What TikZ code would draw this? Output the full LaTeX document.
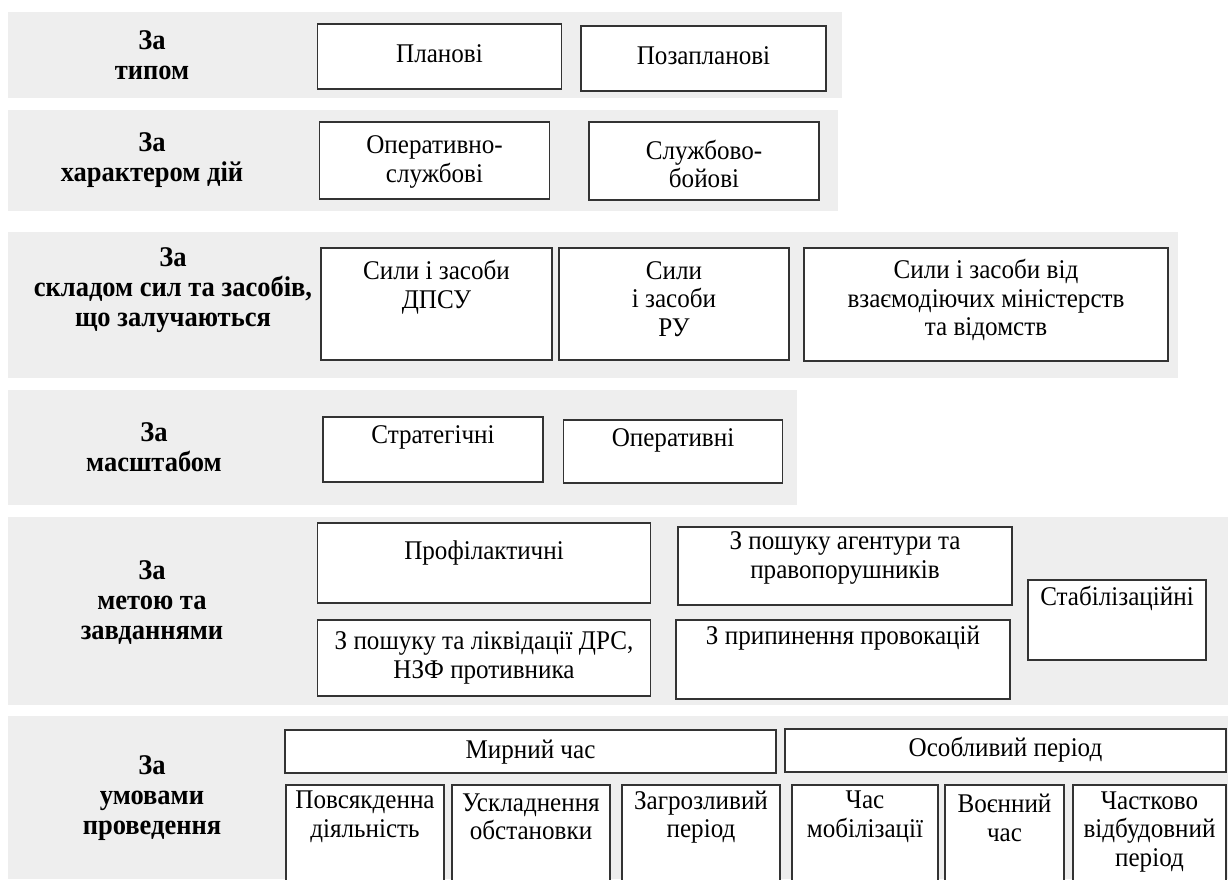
\documentclass[tikz,border=0pt]{standalone}
\usepackage{fontspec}
\setmainfont{Liberation Serif}[FakeStretch=0.93]
\usetikzlibrary{positioning}
\definecolor{bandgray}{HTML}{EEEEEE}
\tikzset{
  band/.style={fill=bandgray, draw=none
  },
  rect/.style={
    draw=black!80, fill=white, rectangle, line width=1.3pt, inner sep=0pt
  },
  mytext/.style={
    align=center, inner sep=0pt, font=\fontsize{27}{28.5}\selectfont
  },
  mylabel/.style={
    align=center, inner sep=0pt, font=\fontsize{28.5}{30}\selectfont\bfseries
  }
}

\begin{document}
\begin{tikzpicture}[x=1pt,y=-1pt]
 \clip (0,0) rectangle (1228,879);
 \fill[white] (0,0) rectangle (1228,879);

 % grey rows
 \fill[band] (8,12) rectangle (842,98);
 \fill[band] (8,110) rectangle (838,211);
 \fill[band] (8,232) rectangle (1178,378);
 \fill[band] (8,390) rectangle (797,505);
 \fill[band] (8,517) rectangle (1228,705);
 \fill[band] (8,716) rectangle (1228,879);

 % row labels
 \node[mylabel] (type) at (152,55) {За\\типом};
 \node[mylabel] (action) at (152,160) {За\\характером дій};
 \node[mylabel] (forces) at (173,290) {За\\складом сил та засобів,\\що залучаються};
 \node[mylabel] (scale) at (154,447) {За\\масштабом};
 \node[mylabel] (goal) at (152,603) {За\\метою та\\завданнями};
 \node[mylabel] (cond) at (152,798) {За\\умовами\\проведення};

 % row 1
 \node[rect, minimum width=244, minimum height=65] (plan) at (439.5,56.5) {};
 \node[rect, minimum width=245, minimum height=65] (unplan) at (703.5,58.5) {};
 \node[mytext] (plan-t) at (439.5,54) {Планові};
 \node[mytext] (unplan-t) at (703.5,56) {Позапланові};

 % row 2
 \node[rect, minimum width=230, minimum height=77] (oper) at (434.5,160.5) {};
 \node[rect, minimum width=230, minimum height=78] (serv) at (704,161) {};
 \node[mytext] (oper-t) at (434.5,162) {Оперативно-\\службові};
 \node[mytext] (serv-t) at (704,164) {Службово-\\бойові};

 % row 3
 \node[rect, minimum width=231, minimum height=112] (dpsu) at (436.5,304) {};
 \node[rect, minimum width=230, minimum height=112] (ru) at (674,304) {};
 \node[rect, minimum width=364, minimum height=113] (mvs) at (986,304.5) {};
 \node[mytext] (dpsu-t) at (436.5,287) {Сили і засоби\\ДПСУ};
 \node[mytext] (ru-t) at (674,299) {Сили\\і засоби\\РУ};
 \node[mytext] (mvs-t) at (986,300) {Сили і засоби від\\взаємодіючих міністерств\\та відомств};

 % row 4
 \node[rect, minimum width=220, minimum height=65] (strat) at (433,449.5) {};
 \node[rect, minimum width=219.5, minimum height=63] (operat) at (673,451.5) {};
 \node[mytext] (strat-t) at (433,437) {Стратегічні};
 \node[mytext] (operat-t) at (673,440) {Оперативні};

 % row 5
 \node[rect, minimum width=333.5, minimum height=80] (prof) at (484,563) {};
 \node[rect, minimum width=334, minimum height=78] (agent) at (845,566) {};
 \node[rect, minimum width=178, minimum height=80] (stab) at (1117,620) {};
 \node[rect, minimum width=332.5, minimum height=76] (drs) at (484,658) {};
 \node[rect, minimum width=334, minimum height=79] (prov) at (843,659.5) {};
 \node[mytext] (prof-t) at (484,553) {Профілактичні};
 \node[mytext] (agent-t) at (845,558) {З пошуку агентури та\\правопорушників};
 \node[mytext] (stab-t) at (1117,598) {Стабілізаційні};
 \node[mytext] (drs-t) at (484,658) {З пошуку та ліквідації ДРС,\\НЗФ противника};
 \node[mytext] (prov-t) at (843,638) {З припинення провокацій};

 % row 6
 \node[rect, minimum width=491, minimum height=43] (peace) at (530.5,751.5) {};
 \node[rect, minimum width=441, minimum height=43] (special) at (1005.5,750.5) {};
 \node[mytext] (peace-t) at (530.5,752) {Мирний час};
 \node[mytext] (special-t) at (1005.5,750) {Особливий період};
 \node[rect, minimum width=158, minimum height=100] (daily) at (365,835) {};
 \node[rect, minimum width=158, minimum height=100] (compl) at (531,835) {};
 \node[rect, minimum width=158, minimum height=100] (threat) at (701,835) {};
 \node[rect, minimum width=146, minimum height=100] (mobil) at (865,835) {};
 \node[rect, minimum width=119, minimum height=100] (war) at (1004.5,835) {};
 \node[rect, minimum width=153, minimum height=100] (recon) at (1149.5,835) {};
 \node[mytext] (daily-t) at (365,817) {Повсякденна\\діяльність};
 \node[mytext] (compl-t) at (531,817) {Ускладнення\\обстановки};
 \node[mytext] (threat-t) at (701,817) {Загрозливий\\період};
 \node[mytext] (mobil-t) at (865,817) {Час\\мобілізації};
 \node[mytext] (war-t) at (1004.5,818) {Воєнний\\час};
 \node[mytext] (recon-t) at (1149.5,832) {Частково\\відбудовний\\період};
\end{tikzpicture}
\end{document}
